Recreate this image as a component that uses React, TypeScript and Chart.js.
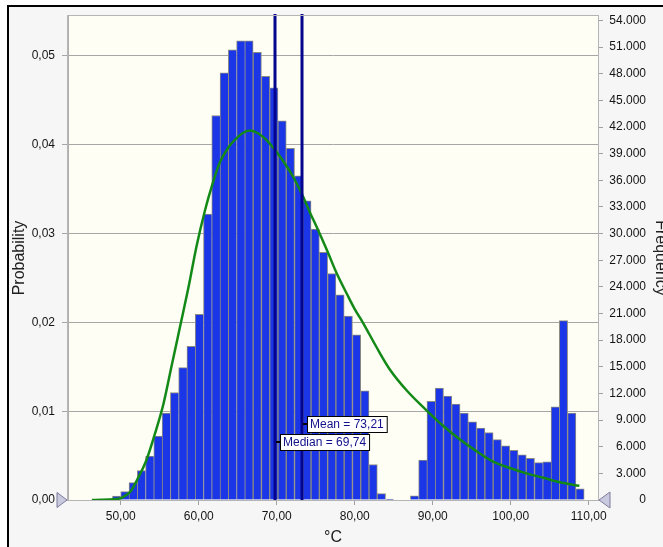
import React, { useEffect, useRef } from 'react';
import { Chart, registerables } from 'chart.js';

Chart.register(...registerables);

// ---- data ----
const binStart = 48.94; // left edge of the first histogram bin (°C)
const binWidth = 1.061; // bin width (°C)
const binProbability = [
  0.00045, 0.00094, 0.00195, 0.0033, 0.00495, 0.0072, 0.0098, 0.0121, 0.0149, 0.0173,
  0.0209, 0.0322, 0.0433, 0.0481, 0.0507, 0.0517, 0.0517, 0.0504, 0.0477, 0.0464,
  0.0427, 0.0396, 0.0365, 0.0337, 0.0305, 0.0279, 0.0255, 0.0231, 0.0207, 0.0186,
  0.0123, 0.0040, 0.00072, 0.0001, 0, 0, 0.00047, 0.0045, 0.0111, 0.0126,
  0.0117, 0.0108, 0.0098, 0.0088, 0.0081, 0.0076, 0.0068, 0.0061, 0.0056, 0.0051,
  0.0047, 0.0042, 0.0043, 0.0105, 0.0202, 0.0098, 0.00125,
];
const curveX = [
  46.3, 47.5, 48.5, 49.3, 50.0, 50.6, 51.2, 51.7, 52.3, 53.3, 54.4, 55.5, 56.5, 57.6, 58.7,
  59.7, 60.8, 61.7, 62.7, 63.8, 64.7, 65.6, 66.6, 67.6, 68.6, 69.6, 70.8, 72.1, 73.2, 74.3,
  75.3, 76.5, 77.7, 79.0, 80.0, 81.1, 82.8, 84.5, 86.7, 89.2, 91.4, 93.5, 95.6, 97.8, 99.9,
  102.0, 104.2, 106.3, 108.8,
];
const curveProbability = [
  0, 0.00002, 0.00005, 0.0001, 0.0002, 0.0005, 0.0009, 0.0016, 0.0026, 0.0045, 0.0075, 0.0109,
  0.015, 0.0195, 0.024, 0.0285, 0.0326, 0.0354, 0.038, 0.0397, 0.0406, 0.0413, 0.0416, 0.0413,
  0.0406, 0.0396, 0.0382, 0.0364, 0.0345, 0.0323, 0.0304, 0.028, 0.0255, 0.0232, 0.0215, 0.0199,
  0.0172, 0.0147, 0.0123, 0.0101, 0.0083, 0.0068, 0.0055, 0.0043, 0.0036, 0.003, 0.0025, 0.002,
  0.0016,
];
const markerNames = ['Median', 'Mean'];
const markerValues = [69.74, 73.21];
const markerLabelLevels = [0.00655, 0.00855]; // probability level of each label box
const samplesInThousands = 1000; // probability -> frequency (thousands)

const xMin = 43.24;
const xMax = 111.19;
const yMax = 0.0545;

const FONT = "'Liberation Sans', Arial, Helvetica, sans-serif";
const fmtComma = (v: number) => v.toFixed(2).replace('.', ',');
const fmtThousands = (v: number) => (Math.abs(v) < 1e-9 ? '0' : v.toFixed(3));

const decorPlugin = {
  id: 'decor',
  beforeDraw(chart: any) {
    const { ctx, chartArea: a } = chart;
    ctx.save();
    ctx.fillStyle = '#fefef4';
    ctx.fillRect(a.left, a.top, a.right - a.left, a.bottom - a.top);
    ctx.restore();
  },
  afterDatasetsDraw(chart: any) {
    const { ctx, chartArea: a, scales } = chart;
    ctx.save();
    ctx.strokeStyle = '#04048f';
    ctx.lineWidth = 3;
    markerValues.forEach((v) => {
      const px = Math.round(scales.x.getPixelForValue(v));
      ctx.beginPath();
      ctx.moveTo(px, a.top - 2);
      ctx.lineTo(px, a.bottom);
      ctx.stroke();
    });
    ctx.restore();
  },
  afterDraw(chart: any) {
    const { ctx, chartArea: a, scales } = chart;
    ctx.save();
    // plot frame
    ctx.strokeStyle = '#b4b4b4';
    ctx.lineWidth = 1;
    ctx.strokeRect(Math.round(a.left) - 0.5, Math.round(a.top) - 0.5, a.right - a.left + 1, a.bottom - a.top + 1);

    // label boxes
    ctx.font = `12px ${FONT}`;
    ctx.textBaseline = 'middle';
    markerValues.forEach((v, i) => {
      const px = Math.round(scales.x.getPixelForValue(v));
      const py = Math.round(scales.y.getPixelForValue(markerLabelLevels[i]));
      const text = `${markerNames[i]} = ${fmtComma(v)}`;
      const w = ctx.measureText(text).width + 6;
      const h = 16;
      const bx = px + 5;
      const by = py - h / 2;
      ctx.fillStyle = '#ffffff';
      ctx.fillRect(bx, by, w, h);
      ctx.strokeStyle = '#000000';
      ctx.lineWidth = 1;
      ctx.strokeRect(bx + 0.5, by + 0.5, w, h);
      ctx.lineWidth = 2;
      ctx.beginPath();
      ctx.moveTo(px + 1, py);
      ctx.lineTo(bx, py);
      ctx.stroke();
      ctx.fillStyle = '#10108a';
      ctx.textAlign = 'left';
      ctx.fillText(text, bx + 3, py + 1);
    });

    // slider triangles at zero
    const y0 = scales.y.getPixelForValue(0);
    ctx.lineWidth = 1;
    ctx.fillStyle = '#c9c9df';
    ctx.strokeStyle = '#7a7a9c';
    ctx.beginPath();
    ctx.moveTo(a.left - 1, y0);
    ctx.lineTo(a.left - 11, y0 - 7.5);
    ctx.lineTo(a.left - 11, y0 + 7.5);
    ctx.closePath();
    ctx.fill();
    ctx.stroke();
    ctx.beginPath();
    ctx.moveTo(a.right + 1, y0);
    ctx.lineTo(a.right + 12, y0 - 8);
    ctx.lineTo(a.right + 12, y0 + 8);
    ctx.closePath();
    ctx.fill();
    ctx.stroke();
    ctx.restore();
  },
};

export default function App() {
  const ref = useRef<HTMLCanvasElement | null>(null);

  useEffect(() => {
    if (!ref.current) return;
    const barData = binProbability.map((p, i) => ({ x: binStart + (i + 0.5) * binWidth, y: p }));
    const lineData = curveX.map((x, i) => ({ x, y: curveProbability[i] }));
    const tickFont = { family: FONT, size: 12 };
    const titleFont = { family: FONT, size: 16 };

    const chart = new Chart(ref.current, {
      type: 'bar',
      data: {
        datasets: [
          {
            type: 'line',
            data: lineData,
            borderColor: '#138a17',
            borderWidth: 2.5,
            pointRadius: 0,
            fill: false,
            cubicInterpolationMode: 'monotone',
            order: 0,
            yAxisID: 'y',
          } as any,
          {
            type: 'bar',
            data: barData,
            backgroundColor: '#1b36e6',
            borderColor: '#8c8c80',
            borderWidth: (c: any) => {
              const i = c.dataIndex;
              const cur = binProbability[i] ?? 0;
              const next = binProbability[i + 1] ?? 0;
              return { top: 1, left: 1, right: next < cur ? 1 : 0, bottom: 0 };
            },
            barPercentage: 1,
            categoryPercentage: 1,
            order: 1,
            yAxisID: 'y',
          } as any,
        ],
      },
      options: {
        responsive: false,
        animation: false,
        devicePixelRatio: 1,
        layout: { padding: { top: 16, left: 0, right: 17, bottom: 0 } },
        plugins: { legend: { display: false }, tooltip: { enabled: false } },
        scales: {
          x: {
            type: 'linear',
            offset: false,
            min: xMin,
            max: xMax,
            ticks: {
              stepSize: 10,
              includeBounds: false,
              autoSkip: false,
              maxRotation: 0,
              padding: 4,
              font: tickFont,
              color: '#141414',
              callback: (v: any) => fmtComma(Number(v)),
            },
            grid: { offset: false, drawOnChartArea: false, drawTicks: true, tickLength: 5, color: '#a0a0a0' },
            border: { color: '#b0b0b0' },
            title: { display: true, text: '°C', font: titleFont, color: '#202020', padding: { top: 8, bottom: 0 } },
            afterFit: (s: any) => {
              s.height = 47;
            },
          },
          y: {
            position: 'left',
            min: 0,
            max: yMax,
            ticks: {
              stepSize: 0.01,
              includeBounds: false,
              padding: 7,
              font: tickFont,
              color: '#141414',
              callback: (v: any) => fmtComma(Number(v)),
            },
            grid: { color: '#a6a6a6', tickLength: 6, drawTicks: true },
            border: { color: '#b0b0b0' },
            title: { display: true, text: 'Probability', font: titleFont, color: '#202020', padding: { top: 10, bottom: 0 } },
            afterFit: (s: any) => {
              s.width = 68;
            },
          },
          y2: {
            position: 'right',
            min: 0,
            max: yMax * samplesInThousands,
            ticks: {
              stepSize: 3,
              includeBounds: false,
              crossAlign: 'far',
              padding: 6,
              font: tickFont,
              color: '#141414',
              callback: (v: any) => fmtThousands(Number(v)),
            },
            grid: { drawOnChartArea: false, tickLength: 5, color: '#a0a0a0' },
            border: { color: '#b0b0b0' },
            title: { display: true, text: 'Frequency', font: titleFont, color: '#202020', padding: { top: -23.6, bottom: 0 } },
            afterFit: (s: any) => {
              s.width = 48;
            },
          },
        },
      } as any,
      plugins: [decorPlugin],
    });
    return () => chart.destroy();
  }, []);

  return (
    <div style={{ position: 'absolute', left: 0, top: 0, width: 663, height: 547, background: '#ffffff', overflow: 'hidden' }}>
      <div
        style={{
          position: 'absolute',
          left: 7,
          top: 5,
          width: 700,
          height: 600,
          borderLeft: '2px solid #000',
          borderTop: '2px solid #000',
          background: '#f6f6f6',
        }}
      />
      <canvas ref={ref} width={663} height={547} style={{ position: 'absolute', left: 0, top: 0, width: 663, height: 547 }} />
    </div>
  );
}
